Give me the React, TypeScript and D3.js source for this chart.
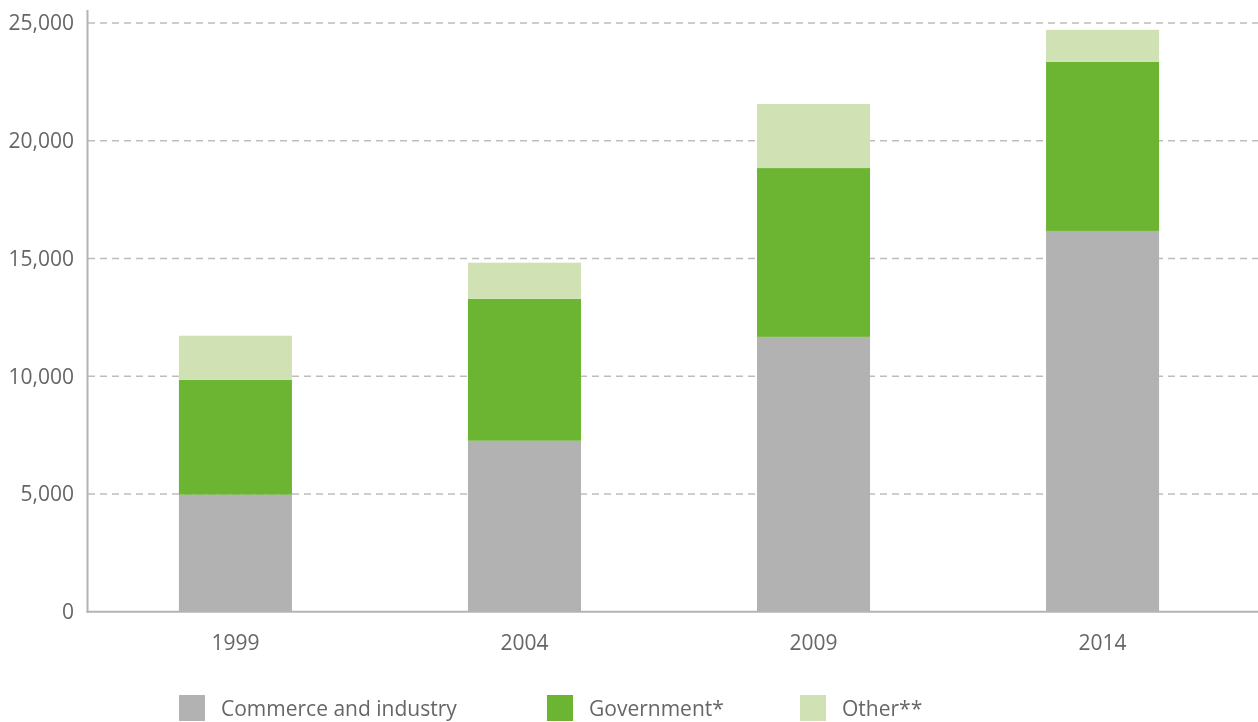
import * as d3 from "d3";

const years = ["1999", "2004", "2009", "2014"];
const commerce = [4970, 7260, 11670, 16170];
const government = [4880, 6030, 7170, 7180];
const other = [1870, 1530, 2720, 1360];
const yTicks = [0, 5000, 10000, 15000, 20000, 25000];

const seriesNames = ["Commerce and industry", "Government*", "Other**"];
const seriesKeys = ["commerce", "government", "other"];

const COLORS: Record<string, string> = {
  commerce: "#b2b2b2",
  government: "#6bb533",
  other: "#d0e2b3",
};

const W = 1258;
const H = 722;
const FONT = "'Open Sans', 'Noto Sans', sans-serif";
const TEXT = "#666666";

export default function App() {
  const rows = years.map((y, i) => ({
    year: y,
    commerce: commerce[i],
    government: government[i],
    other: other[i],
  }));
  const stacked = d3.stack<any>().keys(seriesKeys)(rows);

  const x = d3
    .scaleBand()
    .domain(years)
    .range([87, 1251])
    .paddingInner(0.609)
    .paddingOuter(0.318);
  const y = d3.scaleLinear().domain([0, 25000]).range([611.7, 23]);
  const fmt = d3.format(",");

  const legendX = [179, 547, 800];

  return (
    <div style={{ position: "fixed", left: 0, top: 0 }}>
      <svg width={W} height={H} style={{ display: "block", fontFamily: FONT }}>
        {/* gridlines */}
        {yTicks.slice(1).map((t) => (
          <line
            key={t}
            x1={88}
            x2={W}
            y1={y(t)}
            y2={y(t)}
            stroke="#bdbdbd"
            strokeWidth={1.5}
            strokeDasharray="7 5"
          />
        ))}

        {/* bars */}
        {stacked.map((s) => (
          <g key={s.key} fill={COLORS[s.key]}>
            {s.map((d, i) => (
              <rect
                key={i}
                x={x(years[i])!}
                y={y(d[1])}
                width={x.bandwidth()}
                height={y(d[0]) - y(d[1])}
              />
            ))}
          </g>
        ))}

        {/* axes */}
        <line x1={87.5} x2={87.5} y1={10} y2={612.5} stroke="#b3b3b3" strokeWidth={2} />
        <line x1={86.5} x2={W} y1={611.7} y2={611.7} stroke="#b3b3b3" strokeWidth={2} />

        {yTicks.map((t) => (
          <text
            key={t}
            x={74}
            y={y(t)}
            dy="0.35em"
            textAnchor="end"
            fontSize={21}
            fill={TEXT}
          >
            {fmt(t)}
          </text>
        ))}

        {years.map((yr) => (
          <text
            key={yr}
            x={x(yr)! + x.bandwidth() / 2}
            y={650}
            textAnchor="middle"
            fontSize={21}
            fill={TEXT}
          >
            {yr}
          </text>
        ))}

        {/* legend */}
        {seriesKeys.map((k, i) => (
          <g key={k} transform={`translate(${legendX[i]},695)`}>
            <rect width={26} height={26} fill={COLORS[k]} />
            <text x={42} y={21} fontSize={21} fill={TEXT}>
              {seriesNames[i]}
            </text>
          </g>
        ))}
      </svg>
    </div>
  );
}
